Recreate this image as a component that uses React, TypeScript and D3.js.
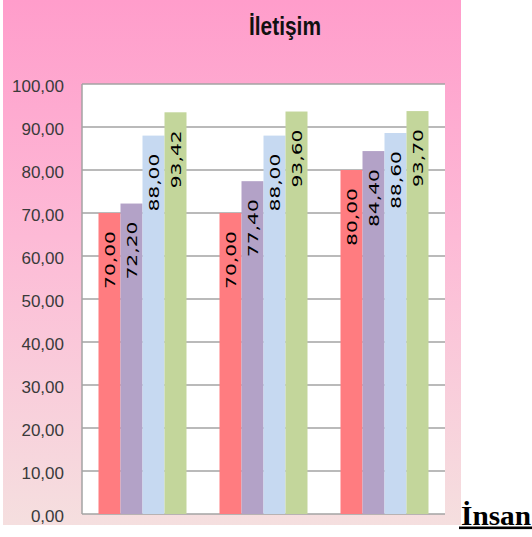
import React from "react";
import * as d3 from "d3";

const categories = ["1", "2", "3"];
const seriesNames = ["S1", "S2", "S3", "S4"];
const series1 = [70.0, 70.0, 80.0];
const series2 = [72.2, 77.4, 84.4];
const series3 = [88.0, 88.0, 88.6];
const series4 = [93.42, 93.6, 93.7];
const seriesValues = [series1, series2, series3, series4];
const seriesColors = ["#FF7C80", "#B3A2C7", "#C6D9F1", "#C3D69B"];
const yTicks = [0, 10, 20, 30, 40, 50, 60, 70, 80, 90, 100];
const title = "İletişim";
const sideText = "İnsan";

const fmt = (v: number) => v.toFixed(2).replace(".", ",");

export default function App() {
  const W = 532;
  const H = 537;
  const plot = { left: 82, top: 84, right: 445, bottom: 514 };

  const x0 = d3
    .scaleBand<string>()
    .domain(categories)
    .range([plot.left, plot.right])
    .paddingInner(1.5 / 5.5)
    .paddingOuter(0.75 / 5.5);
  const x1 = d3
    .scaleBand<string>()
    .domain(seriesNames)
    .range([0, x0.bandwidth()])
    .padding(0);
  const y = d3.scaleLinear().domain([0, 100]).range([plot.bottom, plot.top]);

  return (
    <svg
      width={W}
      height={H}
      style={{ position: "absolute", left: 0, top: 0, background: "#fff" }}
    >
      <defs>
        <linearGradient id="bg" x1="0" y1="0" x2="0" y2="1">
          <stop offset="0%" stopColor="#FF9DCB" />
          <stop offset="45%" stopColor="#FDBAD6" />
          <stop offset="100%" stopColor="#F5DFDF" />
        </linearGradient>
      </defs>
      <rect x={3} y={0} width={458} height={525} fill="url(#bg)" />
      <rect
        x={plot.left}
        y={plot.top}
        width={plot.right - plot.left}
        height={plot.bottom - plot.top}
        fill="#fff"
      />
      {yTicks.map((t) => (
        <line
          key={"g" + t}
          x1={plot.left}
          x2={plot.right}
          y1={y(t)}
          y2={y(t)}
          stroke="#A3A3A3"
          strokeWidth={1.5}
        />
      ))}
      <line
        x1={plot.left}
        x2={plot.left}
        y1={plot.top}
        y2={plot.bottom}
        stroke="#A3A3A3"
        strokeWidth={1.5}
      />
      {yTicks.map((t) => (
        <text
          key={"t" + t}
          x={64}
          y={y(t) + 8}
          textAnchor="end"
          fontFamily="'Liberation Sans', Arial, sans-serif"
          fontSize={17}
          fill="#3a3a3a"
        >
          {fmt(t)}
        </text>
      ))}
      {categories.map((c, ci) =>
        seriesNames.map((s, si) => {
          const v = seriesValues[si][ci];
          const bx = (x0(c) as number) + (x1(s) as number);
          const bw = x1.bandwidth();
          return (
            <rect
              key={c + s}
              x={bx}
              y={y(v)}
              width={bw}
              height={y(0) - y(v)}
              fill={seriesColors[si]}
            />
          );
        })
      )}
      {categories.map((c, ci) =>
        seriesNames.map((s, si) => {
          const v = seriesValues[si][ci];
          const bx = (x0(c) as number) + (x1(s) as number);
          const bw = x1.bandwidth();
          const cx = bx + bw / 2 + 5.3;
          const ty = y(v) + 18;
          return (
            <text
              key={"l" + c + s}
              transform={`translate(${cx},${ty}) rotate(-90)`}
              textAnchor="end"
              fontFamily="'DejaVu Sans', Verdana, sans-serif"
              fontSize={14.5}
              textLength={58}
              lengthAdjust="spacingAndGlyphs"
              fill="#000"
            >
              {fmt(v)}
            </text>
          );
        })
      )}
      <text
        x={285}
        y={35}
        textAnchor="middle"
        fontFamily="'Liberation Sans', Arial, sans-serif"
        fontWeight="bold"
        fontSize={25}
        textLength={72}
        lengthAdjust="spacingAndGlyphs"
        fill="#111"
      >
        {title}
      </text>
      <text
        x={461}
        y={525}
        fontFamily="'Liberation Serif', 'Times New Roman', serif"
        fontWeight="bold"
        fontSize={28}
        textLength={70}
        lengthAdjust="spacingAndGlyphs"
        fill="#000"
      >
        {sideText}
      </text>
      <rect x={459} y={526.5} width={73} height={2.6} fill="#000" />
    </svg>
  );
}
